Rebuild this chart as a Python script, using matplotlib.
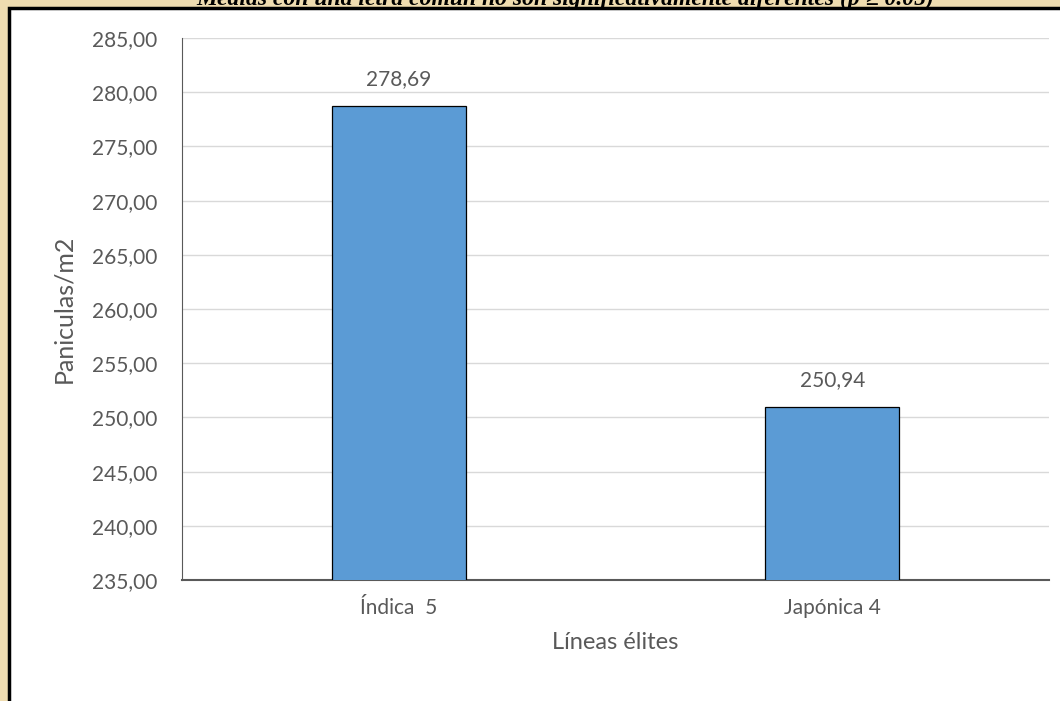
import numpy as np
import matplotlib.pyplot as plt
from matplotlib.patches import Rectangle

# Datos
lineas = ['Índica  5', 'Japónica 4']
paniculas = [278.69, 250.94]
etiquetas = ['278,69', '250,94']
y_ticks = [235, 240, 245, 250, 255, 260, 265, 270, 275, 280, 285]

W, H = 1060, 701
fig = plt.figure(figsize=(W / 100, H / 100), dpi=100)
fig.patch.set_facecolor('#efdcb0')

# Panel blanco con borde negro
panel = Rectangle((9 / W, -0.05), 1.2, 1 - 8 / H + 0.05, transform=fig.transFigure,
                  facecolor='white', edgecolor='black', linewidth=2.5, zorder=-5)
fig.patches.append(panel)

# Titulo recortado arriba
fig.text(565 / W, 1 - 5 / H, 'Medias con una letra común no son significativamente diferentes (p ≥ 0.05)',
         ha='center', va='baseline', fontsize=17, fontstyle='italic', fontweight='bold',
         family='Liberation Serif', color='black')

gris = '#595959'
fuente = 'Lato'
ax = fig.add_axes([182 / W, 1 - 580 / H, (1049 - 182) / W, (580 - 38) / H])
ax.set_facecolor('white')

x = np.arange(len(lineas))
barras = ax.bar(x, paniculas, width=0.31, color='#5b9bd5', edgecolor='black', linewidth=0.9, zorder=3)

for xi, v, t in zip(x, paniculas, etiquetas):
    ax.text(xi, v + 1.6, t, ha='center', va='bottom', fontsize=15, color=gris, family=fuente)

ax.set_xlim(-0.5, 1.5)
ax.set_ylim(235, 285)
ax.set_yticks(y_ticks)
ax.set_yticklabels([f'{v:.2f}'.replace('.', ',') for v in y_ticks], family=fuente, fontsize=15, color=gris)
ax.set_xticks(x)
ax.set_xticklabels(lineas, family=fuente, fontsize=15, color=gris)
ax.tick_params(axis='y', length=0, pad=18)
ax.tick_params(axis='x', length=0, pad=13)
ax.grid(axis='y', color='#d9d9d9', linewidth=1, zorder=0)

for s in ['top', 'right']:
    ax.spines[s].set_visible(False)
ax.spines['left'].set_color('#595959')
ax.spines['bottom'].set_color('#595959')
ax.spines['bottom'].set_linewidth(1.5)

ax.set_ylabel('Paniculas/m2', family=fuente, fontsize=18, color=gris, labelpad=12)
ax.set_xlabel('Líneas élites', family=fuente, fontsize=17, color=gris, labelpad=10)

fig.savefig('out.png', dpi=100, facecolor=fig.get_facecolor())
